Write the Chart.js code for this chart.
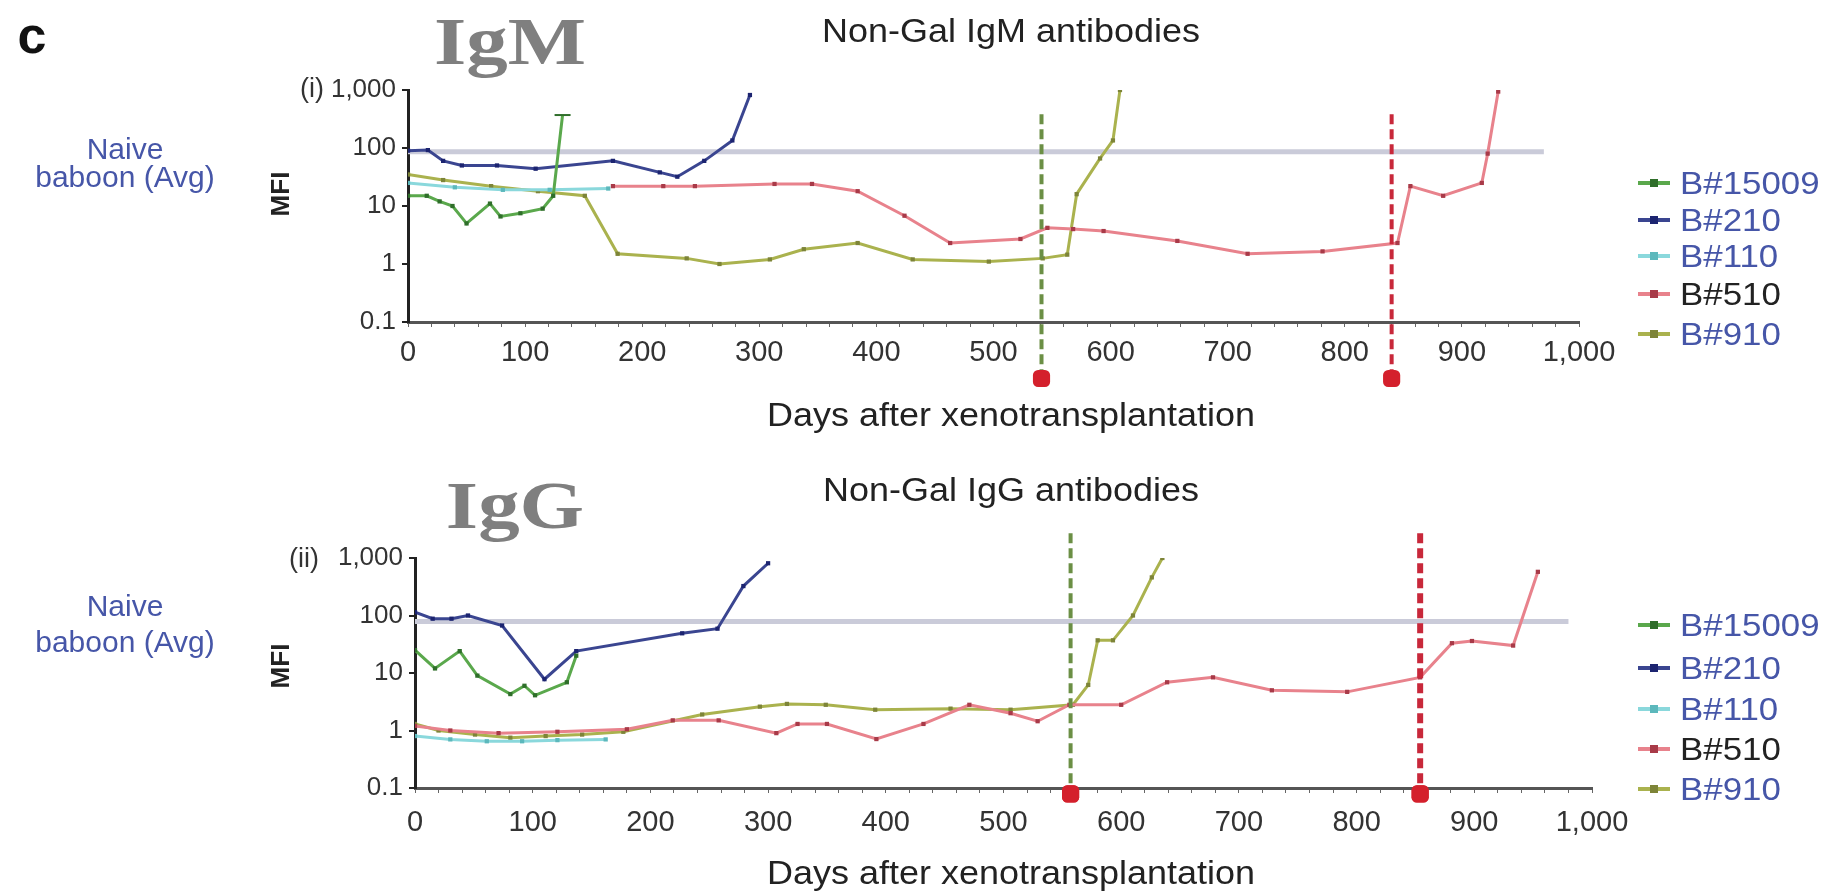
<!DOCTYPE html>
<html>
<head>
<meta charset="utf-8">
<script src="https://cdn.jsdelivr.net/npm/chart.js@4.4.1/dist/chart.umd.min.js"></script>
<style>
  body { margin: 0; background: #fff; }
  #wrap { position: relative; width: 1830px; height: 892px; overflow: hidden; font-family: "Liberation Sans", Arial, sans-serif; }
  #wrap canvas { position: absolute; left: 0; }
  .txt { position: absolute; white-space: nowrap; line-height: 1; transform: translate(-50%, -50%); }
  .panel { font-weight: bold; font-size: 52px; color: #111; }
  .big { font-family: "Liberation Serif", "Times New Roman", serif; font-weight: bold; font-size: 68px; color: #7f7f7f; transform: translate(-50%, -50%) scaleX(1.22); }
  .title { font-size: 33px; color: #222; transform: translate(-50%, -50%) scaleX(1.09); }
  .naive { font-size: 30px; color: #4656a8; }
  .mfi { font-size: 26px; font-weight: bold; color: #222; transform: translate(-50%, -50%) rotate(-90deg); }
  .roman { font-size: 27px; color: #333; }
  .leg { position: absolute; left: 1638px; height: 36px; display: flex; align-items: center; transform: translateY(-50%); }
  .leg .sample { position: relative; width: 32px; height: 36px; margin-right: 10px; }
  .leg .sample i { position: absolute; left: 0; right: 0; top: 16px; height: 4px; }
  .leg .sample b { position: absolute; left: 12px; top: 14px; width: 8px; height: 8px; }
  .leg span { font-size: 32px; display: inline-block; transform: scaleX(1.09); transform-origin: left center; }
</style>
</head>
<body>
<div id="wrap">
  <canvas id="igmChart" width="1830" height="446" style="top:0"></canvas>
  <canvas id="iggChart" width="1830" height="446" style="top:446px"></canvas>

  <div class="txt panel" style="left:32px; top:35px">c</div>
  <div class="txt big" style="left:510px; top:41px">IgM</div>
  <div class="txt big" style="left:515px; top:505px">IgG</div>
  <div class="txt title" style="left:1011px; top:30px">Non-Gal IgM antibodies</div>
  <div class="txt title" style="left:1011px; top:489px">Non-Gal IgG antibodies</div>
  <div class="txt roman" style="left:312px; top:88px">(i)</div>
  <div class="txt roman" style="left:304px; top:558px">(ii)</div>
  <div class="txt naive" style="left:125px; top:149px">Naive</div>
  <div class="txt naive" style="left:125px; top:177px">baboon (Avg)</div>
  <div class="txt naive" style="left:125px; top:606px">Naive</div>
  <div class="txt naive" style="left:125px; top:642px">baboon (Avg)</div>
  <div class="txt mfi" style="left:280px; top:194px">MFI</div>
  <div class="txt mfi" style="left:280px; top:666px">MFI</div>
  <div class="txt title" style="left:1011px; top:414px">Days after xenotransplantation</div>
  <div class="txt title" style="left:1011px; top:872px">Days after xenotransplantation</div>
  <div id="legends"></div>
</div>

<script>
// Animals (legend order)
const animals = ['B#15009', 'B#210', 'B#110', 'B#510', 'B#910'];
const lineColors = ['#5aa84c', '#3a4590', '#8ad8dc', '#e8828c', '#aab24e'];
const markColors = ['#2f6e2a', '#1c2470', '#5cb8bc', '#a83a48', '#7d8438'];
const legendTextColors = ['#4656a8', '#4656a8', '#4656a8', '#222222', '#4656a8'];

// Axis ticks
const yTicks = [0.1, 1, 10, 100, 1000];

// (i) Non-Gal IgM, days after xenotransplantation / MFI
const igmDays15009 = [0, 16, 27, 38, 50, 70, 79, 96, 115, 124, 132];
const igmMfi15009 = [15, 15, 12, 10, 5, 11, 6.6, 7.5, 9, 15, 370];
const igmDays210 = [0, 17, 30, 46, 76, 109, 175, 215, 230, 253, 277, 292];
const igmMfi210 = [90, 92, 60, 50, 50, 44, 60, 38, 32, 60, 135, 820];
const igmDays110 = [0, 40, 81, 121, 171];
const igmMfi110 = [25, 21, 19, 19, 20];
const igmDays510 = [175, 218, 245, 313, 345, 384, 424, 463, 523, 546, 568, 594, 657, 717, 781, 845, 856, 884, 917, 922, 931];
const igmMfi510 = [22, 22, 22, 24, 24, 18, 6.8, 2.3, 2.7, 4.2, 4.0, 3.7, 2.5, 1.5, 1.65, 2.3, 22, 15, 25, 80, 940];
const igmDays910 = [0, 30, 71, 111, 151, 179, 238, 266, 309, 338, 384, 431, 496, 542, 563, 571, 591, 602, 608];
const igmMfi910 = [35, 28, 22, 18, 15, 1.5, 1.25, 1.0, 1.2, 1.8, 2.3, 1.2, 1.1, 1.25, 1.45, 16, 66, 135, 1000];
const igmNaiveAvg = 86;
const igmNaiveDays = [0, 970];
const igmEndDays = [541, 840];
const igmEndTop = 380;
const igmEndDot = 0.0106;

// (ii) Non-Gal IgG
const iggDays15009 = [0, 17, 38, 53, 81, 93, 102, 129, 137];
const iggMfi15009 = [25, 12, 24, 9, 4.3, 6, 4.1, 6.9, 20];
const iggDays210 = [0, 15, 31, 45, 74, 110, 137, 227, 257, 279, 300];
const iggMfi210 = [114, 88, 88, 100, 67, 7.8, 24, 49, 59, 325, 810];
const iggDays110 = [0, 30, 61, 91, 121, 162];
const iggMfi110 = [0.8, 0.7, 0.65, 0.65, 0.68, 0.7];
const iggDays510 = [0, 30, 71, 121, 180, 219, 258, 307, 325, 350, 392, 432, 471, 506, 529, 556, 600, 639, 678, 728, 792, 854, 881, 898, 933, 954];
const iggMfi510 = [1.2, 1.0, 0.9, 0.95, 1.05, 1.5, 1.5, 0.9, 1.3, 1.3, 0.71, 1.3, 2.8, 2.0, 1.45, 2.8, 2.8, 6.9, 8.4, 5.0, 4.7, 8.4, 33, 36, 30, 575];
const iggDays910 = [0, 20, 51, 81, 111, 142, 177, 244, 293, 316, 349, 391, 455, 506, 559, 572, 580, 593, 610, 626, 635];
const iggMfi910 = [1.3, 1.0, 0.85, 0.75, 0.8, 0.85, 0.95, 1.9, 2.6, 2.9, 2.8, 2.3, 2.4, 2.3, 2.8, 6.2, 37, 37, 100, 460, 1000];
const iggNaiveAvg = 79;
const iggNaiveDays = [0, 980];
const iggEndDays = [557, 854];
const iggEndTop = 2700;
const iggEndDot = 0.079;

const endLineColors = ['#6b8f45', '#c8283a'];
const endDotColor = '#d4202c';

function points(days, vals) {
  return days.map((d, k) => ({ x: d, y: vals[k] }));
}

// capped: last point drawn as a short horizontal bar (as on the B#15009 IgM spike)
function series(i, days, vals, capped) {
  const last = days.length - 1;
  return {
    label: animals[i],
    data: points(days, vals),
    borderColor: lineColors[i],
    borderWidth: 3,
    pointStyle: capped ? days.map((d, k) => (k === last ? 'line' : 'rect')) : 'rect',
    pointRadius: capped ? days.map((d, k) => (k === last ? 8 : 3)) : 3,
    pointBackgroundColor: markColors[i],
    pointBorderColor: markColors[i],
    pointBorderWidth: capped ? days.map((d, k) => (k === last ? 2 : 0)) : 0,
    tension: 0
  };
}

function naiveLine(days, avg) {
  return {
    label: 'Naive baboon (Avg)',
    data: days.map(d => ({ x: d, y: avg })),
    borderColor: '#cacbd9',
    borderWidth: 5,
    pointRadius: 0,
    order: 99
  };
}

function endMarkers(days, top, dot, widths) {
  return days.map((d, k) => ({
    label: 'end',
    data: [{ x: d, y: top }, { x: d, y: dot }],
    borderColor: endLineColors[k],
    borderWidth: widths[k],
    borderDash: [10, 5],
    pointStyle: 'rectRounded',
    pointRadius: [0, 10],
    pointBackgroundColor: endDotColor,
    pointBorderWidth: 0,
    clip: false,
    order: -1
  }));
}

// end-of-graft dots sit below the x axis, outside the chart area,
// so draw those point elements again without the area check
const endDots = {
  id: 'endDots',
  afterDatasetsDraw(chart) {
    chart.data.datasets.forEach((ds, i) => {
      if (ds.label !== 'end') return;
      chart.getDatasetMeta(i).data.forEach(pt => pt.draw(chart.ctx));
    });
  }
};

function makeChart(id, area, labelPad, datasets) {
  const yW = 150, xH = 64;
  return new Chart(document.getElementById(id), {
    type: 'line',
    data: { datasets: datasets },
    plugins: [endDots],
    options: {
      responsive: false,
      animation: false,
      devicePixelRatio: 1,
      layout: {
        padding: { left: area.left - yW, top: area.top, right: 1830 - area.right, bottom: 446 - area.bottom - xH }
      },
      plugins: { legend: { display: false }, tooltip: { enabled: false } },
      scales: {
        x: {
          type: 'linear',
          min: 0,
          max: 1000,
          afterFit: s => { s.height = xH; },
          border: { color: '#555', width: 3 },
          grid: { drawOnChartArea: false, tickLength: 5, color: '#666', lineWidth: 1 },
          ticks: {
            stepSize: 20,
            autoSkip: false,
            maxRotation: 0,
            padding: labelPad,
            color: '#333',
            font: { family: 'Liberation Sans', size: 29 },
            callback: v => (v % 100 === 0 ? v.toLocaleString('en-US') : '')
          }
        },
        y: {
          type: 'logarithmic',
          min: 0.1,
          max: 1000,
          afterFit: s => { s.width = yW; },
          afterBuildTicks: s => { s.ticks = yTicks.map(v => ({ value: v })); },
          border: { color: '#222', width: 3 },
          grid: { drawOnChartArea: false, tickLength: 6, color: '#222', lineWidth: 2 },
          ticks: {
            padding: 6,
            color: '#333',
            font: { family: 'Liberation Sans', size: 26 },
            callback: v => v.toLocaleString('en-US')
          }
        }
      }
    }
  });
}

makeChart('igmChart', { left: 408, right: 1579, top: 90, bottom: 322 }, 9, [
  ...endMarkers(igmEndDays, igmEndTop, igmEndDot, [4, 4]),
  series(0, igmDays15009, igmMfi15009, true),
  series(1, igmDays210, igmMfi210),
  series(2, igmDays110, igmMfi110),
  series(3, igmDays510, igmMfi510),
  series(4, igmDays910, igmMfi910),
  naiveLine(igmNaiveDays, igmNaiveAvg)
]);

makeChart('iggChart', { left: 415, right: 1592, top: 112, bottom: 342 }, 13, [
  ...endMarkers(iggEndDays, iggEndTop, iggEndDot, [4, 6]),
  series(0, iggDays15009, iggMfi15009),
  series(1, iggDays210, iggMfi210),
  series(2, iggDays110, iggMfi110),
  series(3, iggDays510, iggMfi510),
  series(4, iggDays910, iggMfi910),
  naiveLine(iggNaiveDays, iggNaiveAvg)
]);

// Legends (HTML, one per panel)
const legendRowsTop = [183, 220, 256, 294, 334];
const legendRowsBottom = [625, 668, 709, 749, 789];
const legendBox = document.getElementById('legends');
[legendRowsTop, legendRowsBottom].forEach(rows => {
  animals.forEach((name, i) => {
    const row = document.createElement('div');
    row.className = 'leg';
    row.style.top = rows[i] + 'px';
    row.innerHTML = '<div class="sample"><i style="background:' + lineColors[i] + '"></i><b style="background:' + markColors[i] + '"></b></div>' +
      '<span style="color:' + legendTextColors[i] + '">' + name + '</span>';
    legendBox.appendChild(row);
  });
});
</script>
</body>
</html>
